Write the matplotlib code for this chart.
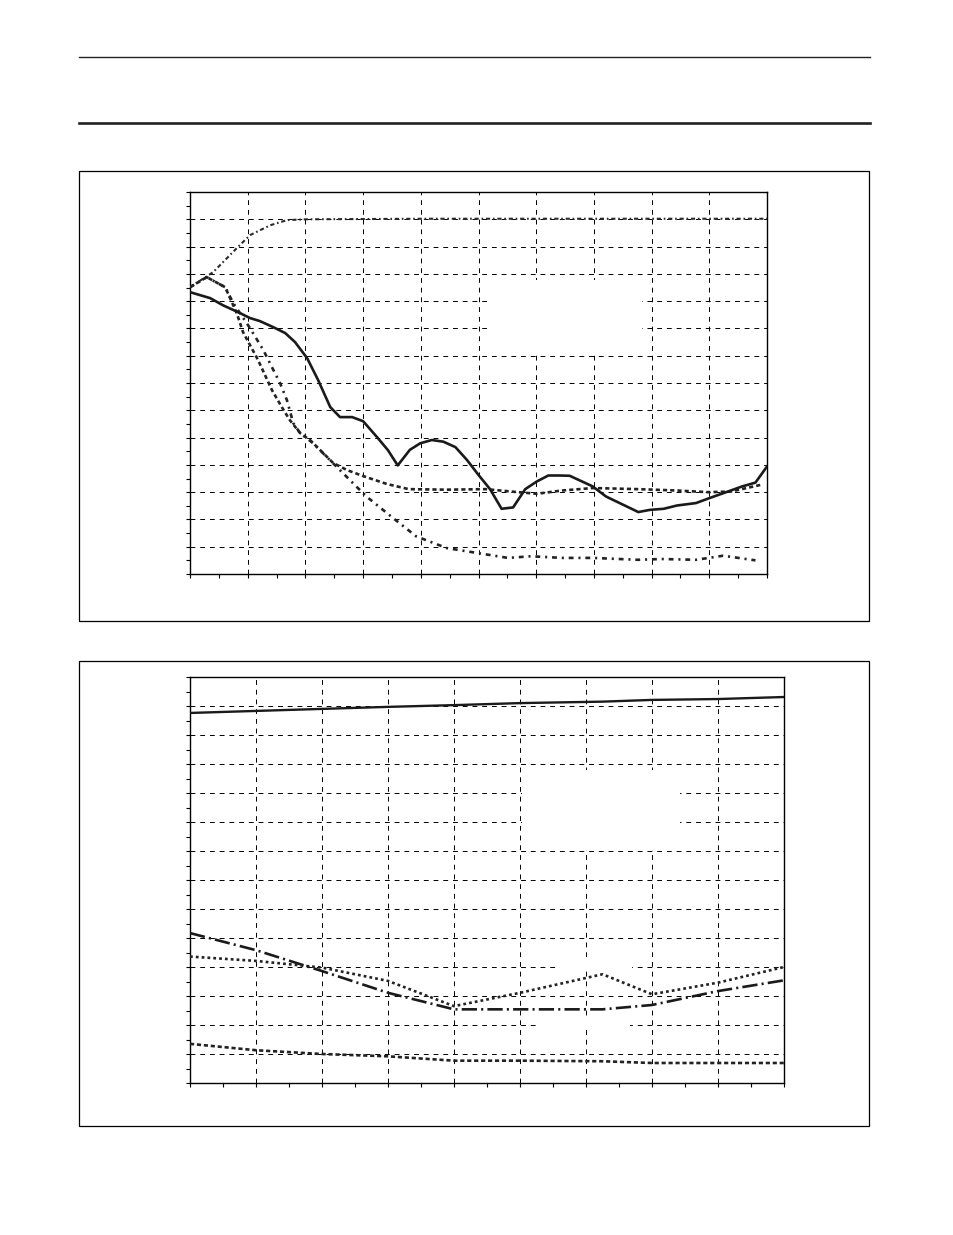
import matplotlib
matplotlib.use('Agg')
import matplotlib.pyplot as plt
from matplotlib.patches import Rectangle
from matplotlib.lines import Line2D

# ---- top chart: four curves on a 0-10 x 0-14 grid ----
top_solid_x = [0.0, 0.35, 0.57, 0.83, 1.04, 1.21, 1.44, 1.65, 1.82, 2.03, 2.22, 2.43, 2.60, 2.81,
               3.00, 3.24, 3.43, 3.60, 3.81, 3.99, 4.19, 4.39, 4.60, 4.80, 5.00, 5.20, 5.40, 5.60,
               5.81, 6.01, 6.21, 6.40, 6.58, 6.98, 7.21, 7.77, 7.97, 8.21, 8.44, 8.77, 9.00, 9.24,
               9.57, 9.80, 10.0]
top_solid_y = [10.33, 10.11, 9.85, 9.60, 9.38, 9.27, 9.05, 8.83, 8.50, 7.91, 7.11, 6.12, 5.75, 5.75,
               5.60, 5.02, 4.54, 3.98, 4.55, 4.79, 4.91, 4.85, 4.65, 4.18, 3.63, 3.11, 2.39, 2.44,
               3.11, 3.39, 3.61, 3.61, 3.60, 3.21, 2.84, 2.27, 2.35, 2.39, 2.51, 2.60, 2.78, 2.96,
               3.21, 3.35, 3.94]

top_upper_x = [0.0, 0.40, 0.81, 1.04, 1.39, 1.68, 2.03, 4.0, 6.0, 8.0, 10.0]
top_upper_y = [10.51, 11.06, 11.94, 12.42, 12.78, 12.97, 13.0, 13.02, 13.02, 13.02, 13.02]

top_mid_x = [0.0, 0.29, 0.61, 0.81, 0.92, 1.18, 1.42, 1.59, 1.73, 1.91, 2.08, 2.29, 2.48, 2.72,
             3.00, 3.41, 3.79, 4.45, 5.12, 5.58, 6.01, 6.45, 6.98, 7.77, 8.44, 8.97, 9.37, 9.90]
top_mid_y = [10.51, 10.88, 10.51, 9.56, 8.86, 7.84, 6.74, 6.12, 5.64, 5.16, 4.91, 4.47, 4.07, 3.81,
             3.59, 3.30, 3.11, 3.09, 3.11, 3.02, 2.94, 3.06, 3.15, 3.11, 3.06, 3.00, 3.02, 3.27]

top_low_x = [0.0, 0.29, 0.61, 0.75, 1.04, 1.27, 1.42, 1.56, 1.68, 1.79, 1.91, 2.13, 2.37, 2.65,
             2.89, 3.07, 3.52, 3.92, 4.45, 4.98, 5.51, 5.91, 6.45, 6.98, 7.77, 8.17, 8.77, 9.24, 9.80]
top_low_y = [10.51, 10.88, 10.51, 9.93, 9.01, 8.21, 7.58, 7.00, 6.37, 5.53, 5.16, 4.80, 4.29, 3.70,
             3.19, 2.82, 2.05, 1.38, 0.95, 0.77, 0.59, 0.65, 0.59, 0.59, 0.52, 0.55, 0.52, 0.67, 0.50]

# ---- bottom chart: four curves on a 0-9 x 0-14 grid ----
bot_x = [0, 1, 2, 3, 4, 5, 6.25, 7, 8, 9]
bot_solid = [12.76, 12.83, 12.90, 12.97, 13.03, 13.10, 13.15, 13.21, 13.24, 13.31]
bot_dashdot = [5.17, 4.58, 3.86, 3.11, 2.54, 2.54, 2.54, 2.69, 3.17, 3.54]
bot_dotted = [4.36, 4.21, 3.98, 3.52, 2.65, 3.11, 3.75, 3.06, 3.46, 4.00]
bot_dashed = [1.35, 1.13, 1.00, 0.92, 0.77, 0.77, 0.75, 0.69, 0.69, 0.69]


def style_axes(ax, xmax, ymax):
    ax.set_xlim(0, xmax)
    ax.set_ylim(0, ymax)
    ax.set_xticks(range(xmax + 1))
    ax.set_yticks(range(ymax + 1))
    ax.set_xticks([i + 0.5 for i in range(xmax)], minor=True)
    ax.set_yticks([i + 0.5 for i in range(ymax)], minor=True)
    ax.tick_params(which='both', direction='out', length=3, width=0.8,
                   labelbottom=False, labelleft=False)
    ax.set_axisbelow(True)
    ax.grid(True, which='major', color='black', linestyle=(0, (3.5, 3.5)), linewidth=0.7)
    for s in ax.spines.values():
        s.set_linewidth(1.0)


if __name__ == '__main__':
    plt.rcParams['lines.scale_dashes'] = False

    W, H = 954, 1235
    fig = plt.figure(figsize=(W / 100, H / 100), dpi=100)

    # page rules
    fig.add_artist(Line2D([79 / W, 870 / W], [1 - 57 / H] * 2, color='#222222', lw=1.0))
    fig.add_artist(Line2D([79 / W, 870 / W], [1 - 123 / H] * 2, color='#222222', lw=1.9))

    # panel frames
    fig.add_artist(Rectangle((79 / W, 1 - 621 / H), 790 / W, 450 / H, transform=fig.transFigure,
                             fill=False, ec='black', lw=0.9))
    fig.add_artist(Rectangle((79 / W, 1 - 1126 / H), 790 / W, 465 / H, transform=fig.transFigure,
                             fill=False, ec='black', lw=0.9))

    # top chart
    ax1 = fig.add_axes([190 / W, 1 - 574 / H, 577 / W, 382 / H])
    style_axes(ax1, 10, 14)
    ax1.add_patch(Rectangle((5.2, 8.1), 2.63, 2.67, fc='white', ec='none', zorder=1))
    ax1.plot(top_upper_x, top_upper_y, color='#2a2a2a', lw=1.5,
             linestyle=(0, (3, 2, 1.2, 2)), zorder=3)
    ax1.plot(top_low_x, top_low_y, color='#222222', lw=1.9,
             linestyle=(0, (3.5, 3.5, 1.5, 3.5)), zorder=3)
    ax1.plot(top_mid_x, top_mid_y, color='#222222', lw=1.9,
             linestyle=(0, (3, 2.2)), zorder=3)
    ax1.plot(top_solid_x, top_solid_y, color='#1a1a1a', lw=1.9, zorder=4)

    # bottom chart
    ax2 = fig.add_axes([190 / W, 1 - 1083 / H, 594 / W, 406 / H])
    style_axes(ax2, 9, 14)
    ax2.add_patch(Rectangle((5.03, 8.03), 2.4, 2.76, fc='white', ec='none', zorder=1))
    ax2.add_patch(Rectangle((5.6, 3.9), 1.1, 0.35, fc='white', ec='none', zorder=1))
    ax2.add_patch(Rectangle((5.3, 1.85), 1.37, 0.4, fc='white', ec='none', zorder=1))
    ax2.plot(bot_x, bot_solid, color='#1a1a1a', lw=1.7, zorder=4)
    ax2.plot(bot_x, bot_dashdot, color='#1a1a1a', lw=1.9,
             linestyle=(0, (11, 3, 1.5, 3)), zorder=3)
    ax2.plot(bot_x, bot_dotted, color='#222222', lw=1.9,
             linestyle=(0, (2, 2.2)), zorder=3)
    ax2.plot(bot_x, bot_dashed, color='#222222', lw=1.9,
             linestyle=(0, (3, 2)), zorder=3)

    plt.savefig('out.png', dpi=100)
